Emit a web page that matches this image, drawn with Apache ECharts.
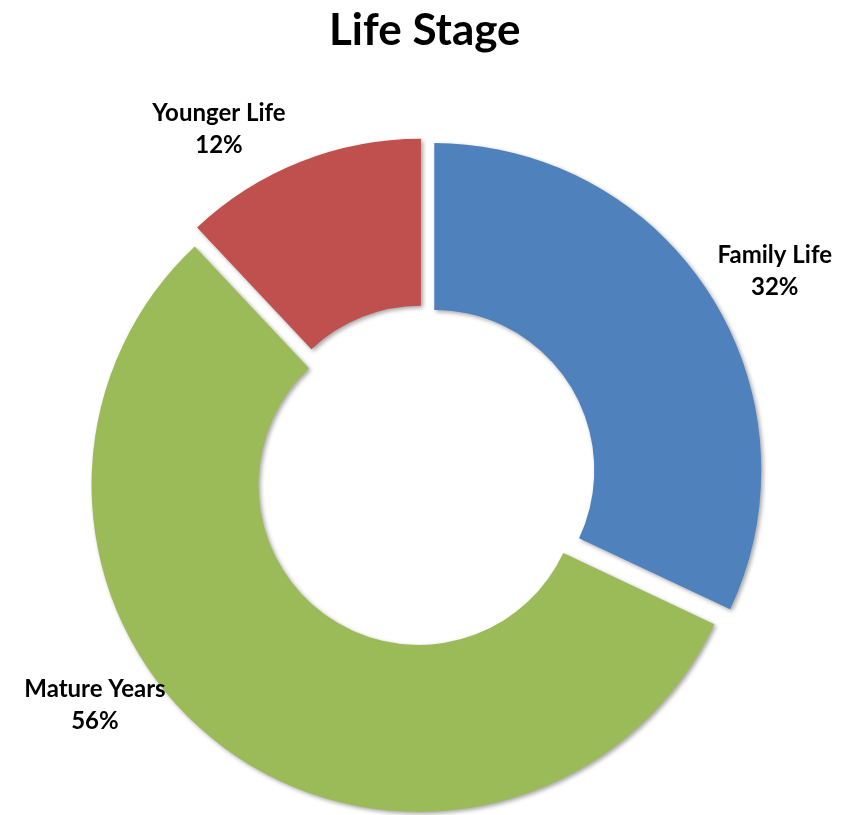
<!DOCTYPE html>
<html>
<head>
<meta charset="utf-8">
<script src="https://cdn.jsdelivr.net/npm/echarts@6/dist/echarts.min.js"></script>
<style>
  html, body { margin: 0; padding: 0; background: #fff; }
  #main { width: 842px; height: 815px; }
</style>
</head>
<body>
<div id="main"></div>
<script>
// chart data
var stages = ['Family Life', 'Mature Years', 'Younger Life'];
var shares = [32, 56, 12];
var colors = ['#4F81BD', '#9BBB59', '#C0504D'];

// label leg lengths [length, length2] so labels sit where Excel put them
var labelLegs = [[44, -35], [-55, 88], [35, -3]];

var chart = echarts.init(document.getElementById('main'));

var pieData = [];
for (var i = 0; i < stages.length; i++) {
    pieData.push({
        name: stages[i],
        value: shares[i],
        selected: true,
        itemStyle: { color: colors[i] },
        labelLine: { length: labelLegs[i][0], length2: labelLegs[i][1] }
    });
}

chart.setOption({
    animation: false,
    title: {
        text: 'Life Stage',
        left: 324,
        top: 4,
        textStyle: {
            fontFamily: 'Lato',
            fontWeight: 'bold',
            fontSize: 44,
            color: '#000'
        }
    },
    series: [{
        type: 'pie',
        center: [425, 476],
        radius: [160, 327],
        startAngle: 90,
        clockwise: true,
        selectedMode: 'multiple',
        selectedOffset: 11,
        avoidLabelOverlap: false,
        emphasis: { disabled: true },
        itemStyle: {
            shadowBlur: 4,
            shadowOffsetX: 2,
            shadowOffsetY: 2,
            shadowColor: 'rgba(0,0,0,0.35)'
        },
        label: {
            show: true,
            position: 'outside',
            overflow: 'none',
            formatter: function (p) {
                return '{t|' + p.name + '}\n{t|' + p.value + '%}';
            },
            rich: {
                t: {
                    fontFamily: 'Lato',
                    fontWeight: 'bold',
                    fontSize: 24,
                    lineHeight: 32,
                    color: '#000',
                    align: 'center'
                }
            }
        },
        labelLine: { show: false },
        data: pieData
    }]
});
</script>
</body>
</html>
